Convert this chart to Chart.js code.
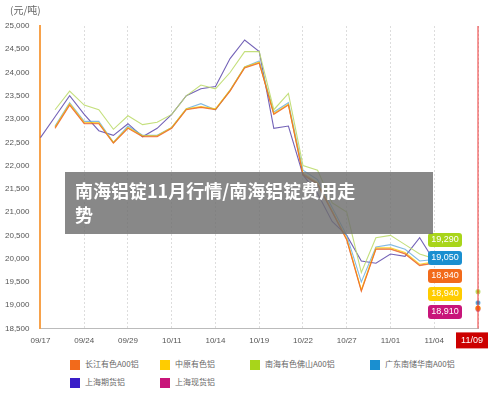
<!DOCTYPE html>
<html>
<head>
<meta charset="utf-8">
<script src="https://cdn.jsdelivr.net/npm/chart.js@4"></script>
<style>
  body { margin: 0; background: #fff; font-family: "Noto Sans CJK SC", sans-serif; }
  #wrap { position: relative; width: 500px; height: 405px; }
  #unit { position: absolute; left: 10px; top: 2px; font-size: 10px; color: #666; }
  #banner { position: absolute; left: 65px; top: 172px; width: 368px; height: 62px; background: rgba(110,110,110,0.82);
    color: #fff; font-weight: bold; font-size: 18px; line-height: 24px; padding: 6px 0 0 10px; box-sizing: border-box; }
  #legend { position: absolute; left: 70px; top: 358px; width: 400px; font-size: 8px; color: #666; }
  #legend span { display: inline-block; width: 90px; margin-bottom: 6px; }
  #legend i { display: inline-block; width: 10px; height: 10px; vertical-align: middle; margin-right: 5px; }
</style>
</head>
<body>
<div id="wrap">
  <canvas id="c" width="500" height="354"></canvas>
  <div id="unit">(元/吨)</div>
  <div id="banner">南海铝锭11月行情/南海铝锭费用走<br>势</div>
  <div id="legend"></div>
</div>
<script>
const tickLabels = ['09/17','09/24','09/29','10/11','10/14','10/19','10/22','10/27','11/01','11/04','11/09']
const seriesNames = ['长江有色A00铝','中原有色铝','南海有色佛山A00铝','广东南储华南A00铝','上海期货铝','上海现货铝']
const seriesColors = ['#f26a1b','#ffcc00','#a8d51a','#1a8fd0','#3a1ec8','#c8157a']
const lineColors = ['rgba(242,106,27,0.8)','rgba(255,204,0,0.8)','rgba(190,220,110,0.9)','rgba(100,170,220,0.8)','rgba(90,70,170,0.85)','rgba(200,90,140,0.7)']

const changjiang = [null,22800,23300,22900,22900,22480,22800,22620,22620,22800,23200,23250,23200,23600,24100,24200,23100,23300,21800,21600,21000,20400,19300,20200,20200,20100,19850,19900,null,null,18940]
const zhongyuan = [null,22830,23330,22930,22920,22500,22820,22640,22640,22820,23220,23270,23220,23620,24120,24220,23120,23320,21830,21630,21030,20430,19330,20230,20230,20130,19880,19930,null,null,18940]
const foshan = [null,23200,23600,23300,23200,22780,23070,22880,22930,23100,23500,23730,23650,24000,24450,24450,23200,23550,22000,21900,21200,21000,19700,20450,20500,20300,20100,20000,null,null,19290]
const guangdong = [null,22850,23350,22950,22950,22500,22850,22650,22650,22820,23220,23330,23200,23620,24120,24250,23150,23350,21900,21700,21100,20500,19500,20250,20300,20200,19950,19980,null,null,19050]
const shqihuo = [22600,23050,23500,23100,22750,22650,22900,22620,22800,23100,23500,23650,23700,24300,24700,24450,22800,22850,21800,21400,20800,20500,19950,19900,20100,20050,20450,19950,null,null,null]
const shxianhuo = [null,22820,23310,22910,22910,22490,22810,22630,22630,22810,23210,23260,23210,23610,24110,24210,23110,23310,21810,21610,21010,20410,19310,20210,20210,20110,19860,19910,null,null,18910]
const allSeries = [changjiang, zhongyuan, foshan, guangdong, shqihuo, shxianhuo]

const labels = changjiang.map((v, i) => i % 3 === 0 ? tickLabels[i / 3] : '')

document.getElementById('legend').innerHTML = seriesNames.map((n, i) =>
  `<span style="width:${i===2?120:90}px"><i style="background:${seriesColors[i]}"></i>${n}</span>`).join('')

// right side value badges + 11/09 marker
const badgePlugin = {
  id: 'badges',
  afterDraw(chart) {
    const ctx = chart.ctx
    const x = chart.scales.x
    const area = chart.chartArea
    const xEnd = x.getPixelForValue(30)
    ctx.save()
    ctx.strokeStyle = '#e33'
    ctx.lineWidth = 1
    ctx.beginPath(); ctx.moveTo(xEnd, area.top); ctx.lineTo(xEnd, area.bottom); ctx.stroke()
    ctx.fillStyle = '#c00'
    ctx.fillRect(xEnd - 22, area.bottom + 4, 32, 16)
    ctx.fillStyle = '#fff'; ctx.font = '9px sans-serif'; ctx.textAlign = 'center'; ctx.textBaseline = 'middle'
    ctx.fillText('11/09', xEnd - 6, area.bottom + 12)
    const order = [2, 3, 0, 1, 5]
    order.forEach((s, k) => {
      const y = 240 + k * 18
      ctx.fillStyle = seriesColors[s]
      ctx.beginPath(); ctx.roundRect(428, y - 7, 34, 14, 3); ctx.fill()
      ctx.fillStyle = '#fff'
      ctx.fillText(allSeries[s][30].toLocaleString('en-US'), 445, y)
    })
    ctx.restore()
  }
}

new Chart(document.getElementById('c'), {
  type: 'line',
  data: {
    labels: labels,
    datasets: allSeries.map((d, i) => ({
      label: seriesNames[i],
      data: d,
      borderColor: lineColors[i],
      backgroundColor: seriesColors[i],
      borderWidth: 1.1,
      tension: 0,
      pointRadius: d.map((v, j) => j === 30 ? 2 : 0)
    }))
  },
  options: {
    responsive: false,
    animation: false,
    layout: { padding: { top: 26, right: 22, left: 2 } },
    plugins: { legend: { display: false }, tooltip: { enabled: false } },
    scales: {
      x: {
        grid: { color: '#ddd', drawTicks: false, tickBorderDash: [2, 2] },
        border: { dash: [2, 2], color: '#bbb' },
        ticks: { autoSkip: false, maxRotation: 0, color: '#555', font: { size: 8 }, padding: 8,
          callback: v => labels[v] },
        afterBuildTicks: axis => { axis.ticks = axis.ticks.filter(t => t.value % 3 === 0) }
      },
      y: {
        min: 18500, max: 25000,
        grid: { display: false },
        border: { color: '#f7a24b', width: 2 },
        ticks: { stepSize: 500, color: '#555', font: { size: 8 },
          callback: v => v.toLocaleString('en-US') }
      }
    }
  },
  plugins: [badgePlugin]
})
</script>
</body>
</html>
